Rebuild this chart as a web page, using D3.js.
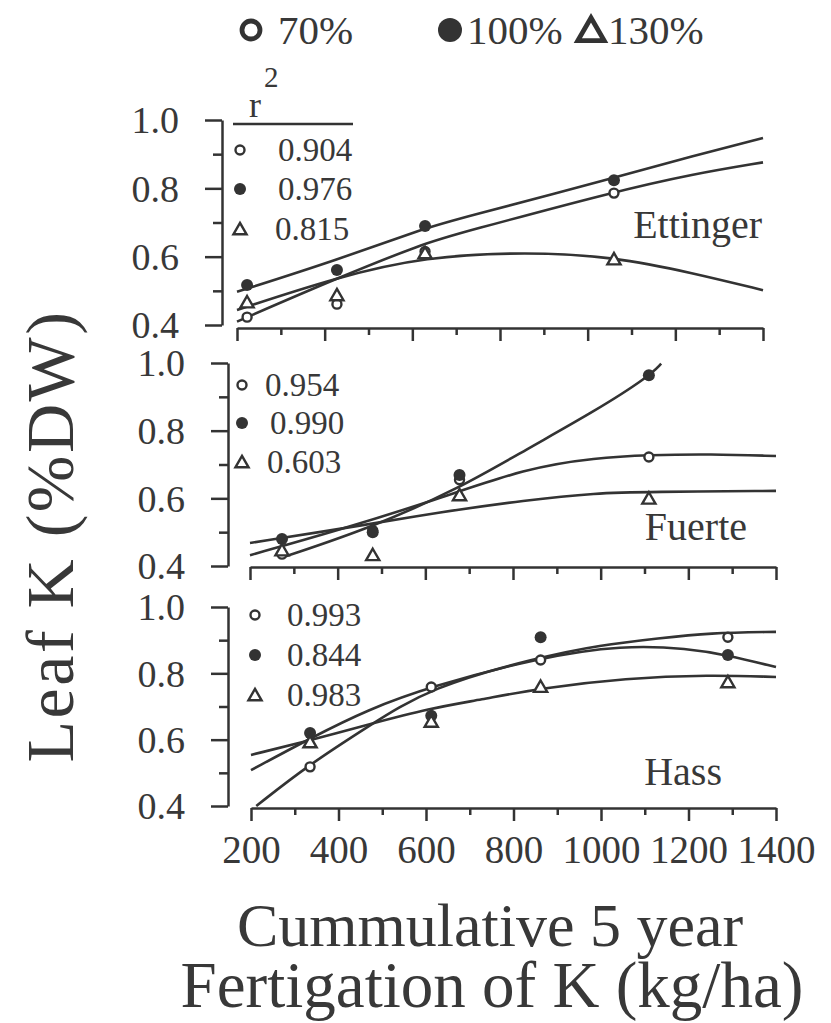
<!DOCTYPE html>
<html>
<head>
<meta charset="utf-8">
<script src="https://cdn.jsdelivr.net/npm/d3@7"></script>
<style>
  body { margin: 0; background: #fff; }
  svg, svg text { font-family: "Liberation Serif", "DejaVu Serif", serif; }
  svg text { fill: #383838; }
</style>
</head>
<body>
<div id="chart"></div>
<script>
// treatments (percent of recommended K) and cultivars
var treatments = ["70%", "100%", "130%"];
var cultivars = ["Ettinger", "Fuerte", "Hass"];

// r^2 of each fitted curve, in treatment order
var r2Ettinger = ["0.904", "0.976", "0.815"];
var r2Fuerte = ["0.954", "0.990", "0.603"];
var r2Hass = ["0.993", "0.844", "0.983"];

// cumulative K fertigated (kg/ha) at each sampling
var kEttinger = [223, 428, 629, 1060];
var kFuerte = [273, 480, 678, 1110];
var kHass = [335, 612, 862, 1290];

// measured leaf K (%DW)
var ett70 = [0.423, 0.461, 0.615, 0.786];
var ett100 = [0.517, 0.561, 0.690, 0.824];
var ett130 = [0.467, 0.488, 0.611, 0.593];
var fue70 = [0.435, 0.505, 0.655, 0.722];
var fue100 = [0.480, 0.500, 0.669, 0.964];
var fue130 = [0.447, 0.433, 0.610, 0.600];
var has70 = [0.518, 0.759, 0.840, 0.909];
var has100 = [0.620, 0.672, 0.909, 0.855];
var has130 = [0.593, 0.655, 0.760, 0.774];

// fitted curves as [K, leaf K]
var ettFit70 = [[200, 0.410], [428, 0.537], [629, 0.640], [709, 0.669], [1060, 0.790], [1241, 0.842], [1400, 0.876]];
var ettFit100 = [[200, 0.497], [428, 0.590], [629, 0.684], [709, 0.712], [1060, 0.830], [1241, 0.895], [1400, 0.947]];
var ettFit130 = [[200, 0.444], [428, 0.540], [629, 0.600], [862, 0.614], [1060, 0.600], [1241, 0.552], [1400, 0.502]];
var fueFit70 = [[200, 0.432], [400, 0.505], [623, 0.595], [831, 0.690], [990, 0.720], [1110, 0.728], [1250, 0.731], [1400, 0.725]];
var fueFit100 = [[273, 0.425], [480, 0.515], [678, 0.630], [831, 0.745], [990, 0.860], [1110, 0.960], [1138, 0.998]];
var fueFit130 = [[200, 0.468], [480, 0.525], [623, 0.557], [831, 0.595], [990, 0.616], [1110, 0.619], [1400, 0.622]];
var hasFit70 = [[212, 0.400], [332, 0.524], [466, 0.638], [610, 0.759], [860, 0.849], [997, 0.885], [1134, 0.906], [1247, 0.922], [1400, 0.925]];
var hasFit100 = [[200, 0.508], [341, 0.608], [466, 0.690], [610, 0.760], [860, 0.848], [1050, 0.885], [1200, 0.875], [1288, 0.855], [1400, 0.819]];
var hasFit130 = [[200, 0.554], [341, 0.600], [466, 0.645], [610, 0.695], [724, 0.720], [860, 0.755], [1058, 0.786], [1247, 0.795], [1400, 0.789]];

// axis ticks
var xMajor = [200, 400, 600, 800, 1000, 1200, 1400];
var xMinor = [300, 500, 700, 900, 1100, 1300];
var yMajor = [0.4, 0.6, 0.8, 1.0];
var yMinor = [0.5, 0.7, 0.9];

var ink = "#333";
var serif = "'Liberation Serif', 'DejaVu Serif', serif";

var panels = [
  { name: cultivars[0], k: kEttinger, pts: [ett70, ett100, ett130], fits: [ettFit70, ettFit100, ettFit130], r2: r2Ettinger,
    x0: 237, x1: 763, yAxisX: 222, yTop: 120, yBot: 325, xAxisY: 328,
    lgSym: 240, lgText: [278, 278, 275], lgRows: [150, 189, 229], labelX: 762, labelY: 238 },
  { name: cultivars[1], k: kFuerte, pts: [fue70, fue100, fue130], fits: [fueFit70, fueFit100, fueFit130], r2: r2Fuerte,
    x0: 250, x1: 776, yAxisX: 228, yTop: 363, yBot: 566, xAxisY: 567,
    lgSym: 242, lgText: [265, 270, 267], lgRows: [385, 423, 462], labelX: 747, labelY: 540 },
  { name: cultivars[2], k: kHass, pts: [has70, has100, has130], fits: [hasFit70, hasFit100, hasFit130], r2: r2Hass,
    x0: 251, x1: 776, yAxisX: 228, yTop: 607, yBot: 806, xAxisY: 808,
    lgSym: 255, lgText: [287, 287, 287], lgRows: [615, 655, 695], labelX: 722, labelY: 785 }
];

var svg = d3.select("#chart").append("svg")
  .attr("width", 831)
  .attr("height", 1023)
  .attr("font-family", serif);

var tri = d3.symbol().type(d3.symbolTriangle);

// draws one marker of treatment i
function marker(g, i, cx, cy, s) {
  if (i === 0) {
    g.append("circle").attr("cx", cx).attr("cy", cy).attr("r", 4.5 * s)
      .attr("fill", "#fff").attr("stroke", ink).attr("stroke-width", 2.4 * s);
  } else if (i === 1) {
    g.append("circle").attr("cx", cx).attr("cy", cy).attr("r", 6 * s).attr("fill", ink);
  } else {
    g.append("path").attr("d", tri.size(75 * s * s)())
      .attr("transform", `translate(${cx},${cy + 1.5 * s})`)
      .attr("fill", "#fff").attr("stroke", ink).attr("stroke-width", 2.4 * s);
  }
}

function txt(sel, size) {
  return sel.attr("font-family", serif).attr("font-size", size).attr("fill", "#383838");
}

function styleAxis(g) {
  g.attr("font-family", serif);
  g.selectAll("path, line").attr("stroke", ink).attr("stroke-width", 2.5);
  g.selectAll("text").attr("fill", "#383838").attr("font-family", serif);
}

panels.forEach(function (p, pi) {
  var x = d3.scaleLinear().domain([200, 1400]).range([p.x0, p.x1]);
  var y = d3.scaleLinear().domain([0.4, 1.0]).range([p.yBot, p.yTop]);
  var g = svg.append("g");

  // y axis
  var ya = g.append("g").attr("transform", `translate(${p.yAxisX},0)`)
    .call(d3.axisLeft(y).tickValues(yMajor).tickSize(17).tickSizeOuter(0).tickPadding(26).tickFormat(d3.format(".1f")));
  ya.call(styleAxis);
  ya.attr("font-size", 38);
  ya.selectAll("text").attr("dy", "0.34em");
  var ym = g.append("g").attr("transform", `translate(${p.yAxisX},0)`)
    .call(d3.axisLeft(y).tickValues(yMinor).tickSize(9).tickSizeOuter(0).tickFormat(""));
  ym.select(".domain").remove();
  ym.call(styleAxis);

  // x axis
  var xa = g.append("g").attr("transform", `translate(0,${p.xAxisY})`)
    .call(d3.axisBottom(x).tickValues(xMajor).tickSize(13).tickSizeOuter(0).tickPadding(14)
      .tickFormat(pi === 2 ? d3.format("d") : ""));
  xa.call(styleAxis);
  xa.attr("font-size", 39);
  var xm = g.append("g").attr("transform", `translate(0,${p.xAxisY})`)
    .call(d3.axisBottom(x).tickValues(xMinor).tickSize(7).tickSizeOuter(0).tickFormat(""));
  xm.select(".domain").remove();
  xm.call(styleAxis);

  // fitted curves
  var line = d3.line().x(d => x(d[0])).y(d => y(d[1])).curve(d3.curveBasis);
  p.fits.forEach(function (f) {
    g.append("path").attr("d", line(f)).attr("fill", "none")
      .attr("stroke", ink).attr("stroke-width", 2.6);
  });

  // measured points
  p.pts.forEach(function (vals, i) {
    vals.forEach(function (v, j) { marker(g, i, x(p.k[j]), y(v), 1); });
  });

  // r^2 legend
  p.r2.forEach(function (r, i) {
    marker(g, i, p.lgSym, p.lgRows[i], 1);
    txt(g.append("text"), 33).attr("x", p.lgText[i]).attr("y", p.lgRows[i]).attr("dy", "0.34em").text(r);
  });

  // cultivar label
  txt(g.append("text"), 40).attr("x", p.labelX).attr("y", p.labelY).attr("text-anchor", "end").text(p.name);
});

// r^2 header over the first legend
txt(svg.append("text"), 36).attr("x", 249).attr("y", 117).text("r");
txt(svg.append("text"), 29).attr("x", 264).attr("y", 87).text("2");
svg.append("line").attr("x1", 233).attr("x2", 353).attr("y1", 124).attr("y2", 124)
  .attr("stroke", ink).attr("stroke-width", 2.5);

// treatment legend on top
var lgX = [251, 450, 591];
var lgTx = [278, 467, 608];
treatments.forEach(function (t, i) {
  marker(svg, i, lgX[i], 30, 2.0);
  txt(svg.append("text"), 41).attr("x", lgTx[i]).attr("y", 30).attr("dy", "0.34em").text(t);
});

// axis titles
txt(svg.append("text"), 68).attr("transform", "translate(73,536) rotate(-90)").attr("text-anchor", "middle")
  .attr("letter-spacing", 2.5).text("Leaf K (%DW)");
txt(svg.append("text"), 62).attr("x", 490).attr("y", 946).attr("text-anchor", "middle")
  .text("Cummulative 5 year");
txt(svg.append("text"), 65).attr("x", 492).attr("y", 1007).attr("text-anchor", "middle")
  .text("Fertigation of K (kg/ha)");
</script>
</body>
</html>
